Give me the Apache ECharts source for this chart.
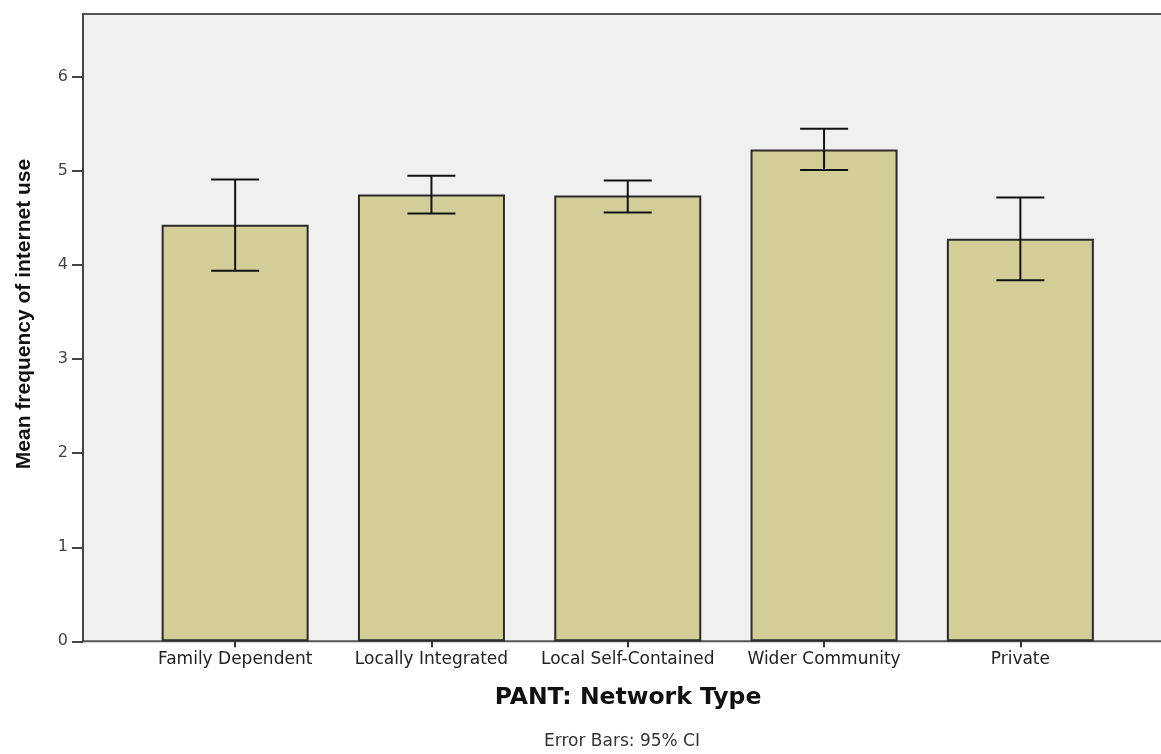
<!DOCTYPE html>
<html>
<head>
<meta charset="utf-8">
<title>Mean frequency of internet use by network type</title>
<script src="https://cdn.jsdelivr.net/npm/echarts@6/dist/echarts.min.js"></script>
<style>
  html, body { margin: 0; padding: 0; background: #fff; }
  #main { width: 1161px; height: 754px; }
</style>
</head>
<body>
<div id="main"></div>
<script>
var categories = ['Family Dependent', 'Locally Integrated', 'Local Self-Contained', 'Wider Community', 'Private'];
var means = [4.43, 4.75, 4.74, 5.23, 4.28];
var ciLow = [3.94, 4.55, 4.56, 5.01, 3.84];
var ciHigh = [4.91, 4.95, 4.90, 5.45, 4.72];
var yTicks = [0, 1, 2, 3, 4, 5, 6];

var myChart = echarts.init(document.getElementById('main'));

var errData = categories.map(function (c, i) {
    return [i, ciLow[i], ciHigh[i]];
});

var option = {
    animation: false,
    textStyle: { fontFamily: 'DejaVu Sans, sans-serif' },
    grid: [
        // bars
        { left: 137, right: 42.5, top: 14, bottom: 112.7, outerBoundsMode: 'none' },
        // frame + background, runs off the right edge like the original
        {
            left: 83, right: -20, top: 14, bottom: 112.7, outerBoundsMode: 'none',
            show: true, backgroundColor: '#f0f0f0',
            borderColor: '#555', borderWidth: 2
        }
    ],
    xAxis: [
        {
            type: 'category', gridIndex: 0, data: categories,
            axisLine: { show: false },
            axisTick: { show: true, interval: 0, alignWithLabel: true, length: 6, lineStyle: { color: '#333', width: 2 } },
            axisLabel: { color: '#222', fontSize: 17, margin: 10, interval: 0, hideOverlap: false }
        },
        { type: 'value', gridIndex: 1, show: false, min: 0, max: 1 }
    ],
    yAxis: [
        { type: 'value', gridIndex: 0, show: false, min: 0, max: 6.67 },
        {
            type: 'value', gridIndex: 1, min: 0, max: 6.67, interval: 1,
            splitLine: { show: false },
            axisLine: { show: true, lineStyle: { color: '#444', width: 2 } },
            axisTick: { show: true, length: 11, customValues: yTicks, lineStyle: { color: '#444', width: 2 } },
            axisLabel: { color: '#444', fontSize: 16, margin: 15, customValues: yTicks }
        }
    ],
    series: [
        {
            type: 'bar', xAxisIndex: 0, yAxisIndex: 0,
            data: means, barWidth: 147,
            itemStyle: { color: '#d3ce97', borderColor: '#2a2a2a', borderWidth: 2 }
        },
        {
            type: 'custom', xAxisIndex: 0, yAxisIndex: 0,
            data: errData, z: 5,
            renderItem: function (params, api) {
                var lo = api.coord([api.value(0), api.value(1)]);
                var hi = api.coord([api.value(0), api.value(2)]);
                var w = 24;
                var st = { stroke: '#111', lineWidth: 2 };
                return {
                    type: 'group',
                    children: [
                        { type: 'line', shape: { x1: lo[0], y1: lo[1], x2: hi[0], y2: hi[1] }, style: st },
                        { type: 'line', shape: { x1: lo[0] - w, y1: lo[1], x2: lo[0] + w, y2: lo[1] }, style: st },
                        { type: 'line', shape: { x1: hi[0] - w, y1: hi[1], x2: hi[0] + w, y2: hi[1] }, style: st }
                    ]
                };
            }
        }
    ],
    graphic: [
        {
            type: 'text', x: 24, y: 314, rotation: Math.PI / 2,
            style: {
                text: 'Mean frequency of internet use', fill: '#111',
                font: 'bold 21px "Liberation Sans", Arial, sans-serif',
                align: 'center', verticalAlign: 'middle'
            }
        },
        {
            type: 'text', x: 628, y: 698,
            style: {
                text: 'PANT: Network Type', fill: '#111',
                font: 'bold 23.5px "DejaVu Sans", sans-serif',
                align: 'center', verticalAlign: 'middle'
            }
        },
        {
            type: 'text', x: 622, y: 742,
            style: {
                text: 'Error Bars: 95% CI', fill: '#333',
                font: '17px "DejaVu Sans", sans-serif',
                align: 'center', verticalAlign: 'middle'
            }
        }
    ]
};

myChart.setOption(option);
</script>
</body>
</html>
